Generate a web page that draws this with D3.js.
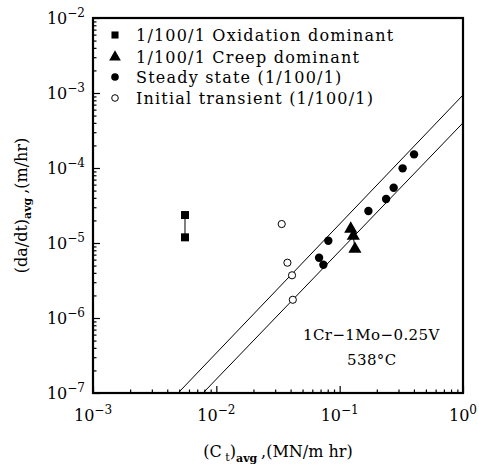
<!DOCTYPE html>
<html>
<head>
<meta charset="utf-8">
<style>
  body { margin: 0; background: #fff; }
  svg text { font-family: "DejaVu Serif", "Liberation Serif", serif; fill: #000; }
</style>
</head>
<body>
<div id="chart"></div>
<script src="https://cdn.jsdelivr.net/npm/d3@7"></script>
<script>

// data (x = (Ct)avg MN/m hr, y = (da/dt)avg m/hr)
let oxidation = [
  {x: 0.00557, y: 2.36e-5},
  {x: 0.00557, y: 1.19e-5}
];
let creep = [
  {x: 0.123, y: 1.54e-5},
  {x: 0.129, y: 1.24e-5},
  {x: 0.133, y: 8.3e-6}
];
let steady = [
  {x: 0.0809, y: 1.07e-5},
  {x: 0.0681, y: 6.37e-6},
  {x: 0.0738, y: 5.14e-6},
  {x: 0.171, y: 2.67e-5},
  {x: 0.238, y: 3.86e-5},
  {x: 0.274, y: 5.46e-5},
  {x: 0.324, y: 9.9e-5},
  {x: 0.401, y: 1.52e-4}
];
let transient = [
  {x: 0.0339, y: 1.79e-5},
  {x: 0.0377, y: 5.46e-6},
  {x: 0.0411, y: 3.71e-6},
  {x: 0.0417, y: 1.75e-6}
];
let band_upper = [{x: 0.0049, y: 1e-7}, {x: 1, y: 9.4e-4}];
let band_lower = [{x: 0.0078, y: 1e-7}, {x: 1, y: 4.0e-4}];

let x_ticks = [-3, -2, -1, 0];
let y_ticks = [-7, -6, -5, -4, -3, -2];
let legend_labels = [
  "1/100/1 Oxidation dominant",
  "1/100/1 Creep dominant",
  "Steady state (1/100/1)",
  "Initial transient (1/100/1)"
];

let margin = {top: 18, right: 16, bottom: 71, left: 93},
    container_width = 479,
    container_height = 464,
    graph_width = container_width - margin.left - margin.right,
    graph_height = container_height - margin.top - margin.bottom;

let svg = d3.select("#chart")
  .append("svg")
    .attr("width", container_width)
    .attr("height", container_height);

let g = svg.append("g")
  .attr("transform", "translate(" + margin.left + "," + margin.top + ")");

let x = d3.scaleLog().domain([1e-3, 1]).range([0, graph_width]);
let y = d3.scaleLog().domain([1e-7, 1e-2]).range([graph_height, 0]);

// minor + major tick values
function log_ticks(lo, hi) {
  let out = [];
  for (let e = lo; e < hi; e++) {
    for (let m = 1; m < 10; m++) out.push(m * Math.pow(10, e));
  }
  out.push(Math.pow(10, hi));
  return out;
}
function is_major(v) {
  return Math.abs(Math.log10(v) - Math.round(Math.log10(v))) < 1e-6;
}

// bottom axis (ticks point inward)
let x_axis = g.append("g")
  .attr("transform", "translate(0," + graph_height + ")")
  .call(d3.axisBottom(x).tickValues(log_ticks(-3, 0)).tickFormat("").tickSizeOuter(0));
x_axis.select(".domain").remove();
x_axis.selectAll(".tick line")
  .attr("y2", d => is_major(d) ? -7 : -3.5)
  .attr("stroke-width", 1.2);

// left axis
let y_axis = g.append("g")
  .call(d3.axisLeft(y).tickValues(log_ticks(-7, -2)).tickFormat("").tickSizeOuter(0));
y_axis.select(".domain").remove();
y_axis.selectAll(".tick line")
  .attr("x2", d => is_major(d) ? 7 : 3.5)
  .attr("stroke-width", 1.2);

// frame
g.append("rect")
  .attr("width", graph_width)
  .attr("height", graph_height)
  .attr("fill", "none")
  .attr("stroke", "#000")
  .attr("stroke-width", 2.2);

// tick labels as 10^n
x_ticks.forEach(function(e) {
  let t = g.append("text")
    .attr("x", x(Math.pow(10, e)))
    .attr("y", graph_height + 28)
    .attr("text-anchor", "middle")
    .attr("font-size", 16);
  t.append("tspan").text("10");
  t.append("tspan").attr("dy", -7).attr("font-size", 12).text(e < 0 ? "\u2212" + (-e) : e);
});
y_ticks.forEach(function(e) {
  let t = g.append("text")
    .attr("x", -8)
    .attr("y", y(Math.pow(10, e)) + 6)
    .attr("text-anchor", "end")
    .attr("font-size", 16);
  t.append("tspan").text("10");
  t.append("tspan").attr("dy", -7).attr("font-size", 12).text("\u2212" + (-e));
});

// axis titles
let xt = svg.append("text")
  .attr("x", margin.left + graph_width / 2)
  .attr("y", 457)
  .attr("text-anchor", "middle")
  .attr("font-size", 16);
xt.append("tspan").text("(C");
xt.append("tspan").attr("dy", 4).attr("font-size", 11).text(" t");
xt.append("tspan").attr("dy", -4).text(")");
xt.append("tspan").attr("dy", 5).attr("font-size", 11).attr("font-weight", "bold").text("avg ");
xt.append("tspan").attr("dy", -5).text(",(MN/m hr)");

let yt = svg.append("text")
  .attr("transform", "translate(27," + (margin.top + graph_height / 2) + ") rotate(-90)")
  .attr("text-anchor", "middle")
  .attr("font-size", 16);
yt.append("tspan").text("(da/dt)");
yt.append("tspan").attr("dy", 4).attr("font-size", 11).attr("font-weight", "bold").text("avg ");
yt.append("tspan").attr("dy", -4).text(",(m/hr)");

// scatter band lines
let line = d3.line().x(d => x(d.x)).y(d => y(d.y));
[band_upper, band_lower].forEach(function(b) {
  g.append("path")
    .attr("d", line(b))
    .attr("fill", "none")
    .attr("stroke", "#000")
    .attr("stroke-width", 1);
});

// connectors between repeat points
g.append("path")
  .attr("d", line(oxidation))
  .attr("stroke", "#000")
  .attr("stroke-width", 1);
g.append("path")
  .attr("d", line(creep.slice(1)))
  .attr("stroke", "#000")
  .attr("stroke-width", 1);

let square = d3.symbol().type(d3.symbolSquare).size(64);
let tri = d3.symbol().type(d3.symbolTriangle).size(75);

g.selectAll(".ox")
  .data(oxidation)
  .enter()
  .append("path")
    .attr("class", "ox")
    .attr("d", square)
    .attr("transform", d => "translate(" + x(d.x) + "," + y(d.y) + ")");

g.selectAll(".cr")
  .data(creep)
  .enter()
  .append("path")
    .attr("class", "cr")
    .attr("d", tri)
    .attr("transform", d => "translate(" + x(d.x) + "," + y(d.y) + ")");

g.selectAll(".ss")
  .data(steady)
  .enter()
  .append("circle")
    .attr("class", "ss")
    .attr("cx", d => x(d.x))
    .attr("cy", d => y(d.y))
    .attr("r", 4.2);

g.selectAll(".it")
  .data(transient)
  .enter()
  .append("circle")
    .attr("class", "it")
    .attr("cx", d => x(d.x))
    .attr("cy", d => y(d.y))
    .attr("r", 3.6)
    .attr("fill", "#fff")
    .attr("stroke", "#000")
    .attr("stroke-width", 1);

// legend
let legend = g.append("g").attr("transform", "translate(22,17)");
legend_labels.forEach(function(lbl, i) {
  let row = legend.append("g").attr("transform", "translate(0," + [0, 22, 42, 63][i] + ")");
  if (i === 0) row.append("path").attr("d", d3.symbol().type(d3.symbolSquare).size(50));
  if (i === 1) row.append("path").attr("d", d3.symbol().type(d3.symbolTriangle).size(60));
  if (i === 2) row.append("circle").attr("r", 3.8);
  if (i === 3) row.append("circle").attr("r", 3.3).attr("fill", "#fff").attr("stroke", "#000");
  row.append("text")
    .attr("x", 21)
    .attr("y", 5.5)
    .attr("font-size", 16)
    .attr("letter-spacing", 1.2)
    .text(lbl);
});

// material note
g.append("text")
  .attr("x", 210)
  .attr("y", 322)
  .attr("font-size", 15)
  .attr("letter-spacing", 0.4)
  .text("1Cr\u22121Mo\u22120.25V");
g.append("text")
  .attr("x", 254)
  .attr("y", 347)
  .attr("font-size", 15)
  .attr("letter-spacing", 0.4)
  .text("538\u00B0C");

</script>
</body>
</html>
